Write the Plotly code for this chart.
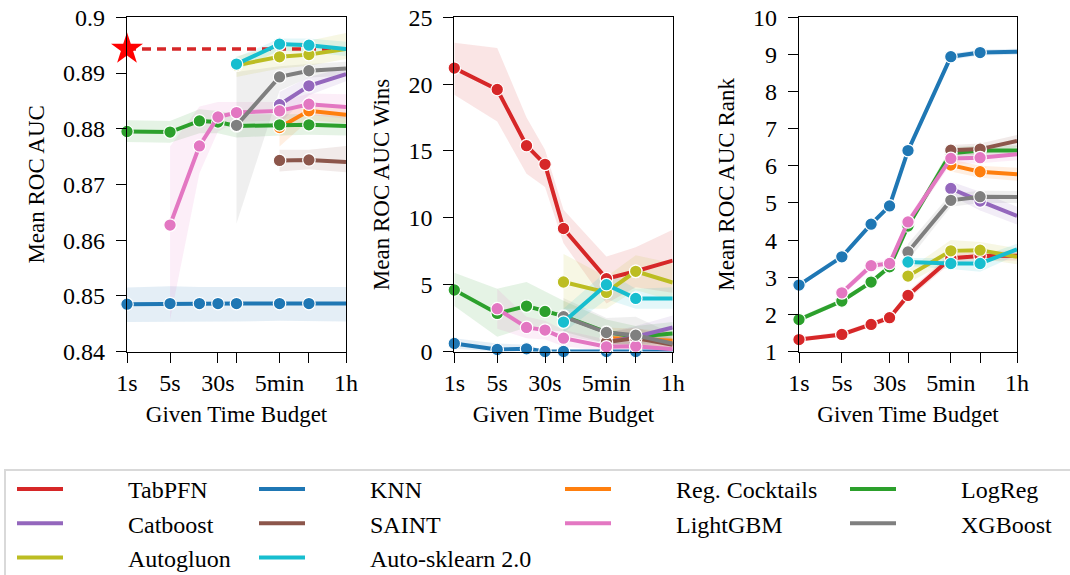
import plotly.graph_objects as go

# ---------------- data ----------------
times = [1, 5, 15, 30, 60, 300, 900, 3600]
tick_vals = [1, 5, 30, 60, 300, 900, 3600]
tick_text = ["1s", "5s", "30s", "", "5min", "", "1h"]

methods = ["TabPFN", "KNN", "Reg. Cocktails", "LogReg", "Catboost",
           "SAINT", "LightGBM", "XGBoost", "Autogluon", "Auto-sklearn 2.0"]

N = None

# Mean ROC AUC
auc_mean = {
    "TabPFN": [0.8943, N, N, N, N, N, N, N],
    "KNN": [0.8485, 0.8486, 0.8486, 0.8486, 0.8486, 0.8486, 0.8486, 0.8486],
    "Reg. Cocktails": [N, N, N, N, N, 0.8802, 0.8832, 0.8825],
    "LogReg": [0.8795, 0.8794, 0.8814, 0.8812, 0.8805, 0.8807, 0.8807, 0.8805],
    "Catboost": [N, N, N, N, N, 0.8843, 0.8877, 0.8898],
    "SAINT": [N, N, N, N, N, 0.8743, 0.8744, 0.8740],
    "LightGBM": [N, 0.8627, 0.8769, 0.8821, 0.8829, 0.8832, 0.8844, 0.8839],
    "XGBoost": [N, N, N, N, 0.8806, 0.8893, 0.8904, 0.8908],
    "Autogluon": [N, N, N, N, 0.8914, 0.8929, 0.8933, 0.8943],
    "Auto-sklearn 2.0": [N, N, N, N, 0.8916, 0.8952, 0.8950, 0.8943],
}
auc_lo = {
    "KNN": [0.8453, 0.8454, 0.8454, 0.8454, 0.8454, 0.8455, 0.8455, 0.8454],
    "Reg. Cocktails": [N, N, N, N, N, 0.8768, 0.8815, 0.8810],
    "LogReg": [0.8776, 0.8775, 0.8792, 0.8792, 0.8784, 0.8788, 0.8789, 0.8788],
    "Catboost": [N, N, N, N, N, 0.8810, 0.8860, 0.8885],
    "SAINT": [N, N, N, N, N, 0.8723, 0.8727, 0.8722],
    "LightGBM": [N, 0.8457, 0.8720, 0.8795, 0.8812, 0.8815, 0.8825, 0.8818],
    "XGBoost": [N, N, N, N, 0.8630, 0.8868, 0.8892, 0.8895],
    "Autogluon": [N, N, N, N, 0.8893, 0.8908, 0.8913, 0.8925],
    "Auto-sklearn 2.0": [N, N, N, N, 0.8905, 0.8940, 0.8938, 0.8930],
}
auc_hi = {
    "KNN": [0.8515, 0.8517, 0.8516, 0.8516, 0.8516, 0.8517, 0.8517, 0.8516],
    "Reg. Cocktails": [N, N, N, N, N, 0.8835, 0.8846, 0.8840],
    "LogReg": [0.8815, 0.8814, 0.8835, 0.8832, 0.8826, 0.8826, 0.8826, 0.8823],
    "Catboost": [N, N, N, N, N, 0.8866, 0.8893, 0.8910],
    "SAINT": [N, N, N, N, N, 0.8762, 0.8762, 0.8769],
    "LightGBM": [N, 0.8768, 0.8840, 0.8848, 0.8848, 0.8848, 0.8863, 0.8862],
    "XGBoost": [N, N, N, N, 0.8902, 0.8912, 0.8916, 0.8920],
    "Autogluon": [N, N, N, N, 0.8930, 0.8950, 0.8958, 0.8972],
    "Auto-sklearn 2.0": [N, N, N, N, 0.8928, 0.8962, 0.8962, 0.8956],
}

# Mean ROC AUC Wins
wins_mean = {
    "TabPFN": [21.2, 19.6, 15.4, 14.0, 9.2, 5.45, 6.0, 6.8],
    "KNN": [0.6, 0.15, 0.2, 0.0, 0.0, 0.0, 0.0, 0.0],
    "Reg. Cocktails": [N, N, N, N, N, 1.0, 0.95, 0.8],
    "LogReg": [4.6, 2.85, 3.4, 3.0, 2.65, 1.45, 1.1, 1.35],
    "Catboost": [N, N, N, N, N, 0.7, 1.1, 1.8],
    "SAINT": [N, N, N, N, N, 0.7, 1.0, 0.5],
    "LightGBM": [N, 3.2, 1.8, 1.6, 1.0, 0.35, 0.4, 0.17],
    "XGBoost": [N, N, N, N, 2.6, 1.42, 1.22, 0.6],
    "Autogluon": [N, N, N, N, 5.2, 4.42, 6.0, 5.16],
    "Auto-sklearn 2.0": [N, N, N, N, 2.2, 5.0, 3.97, 3.97],
}
wins_lo = {
    "TabPFN": [19.2, 17.2, 13.3, 12.3, 8.1, 3.6, 4.8, 4.4],
    "KNN": [0.2, 0.0, 0.0, 0.0, 0.0, 0.0, 0.0, 0.0],
    "Reg. Cocktails": [N, N, N, N, N, 0.3, 0.3, 0.2],
    "LogReg": [3.4, 1.1, 1.8, 1.6, 1.5, 0.6, 0.5, 0.6],
    "Catboost": [N, N, N, N, N, 0.2, 0.5, 1.0],
    "SAINT": [N, N, N, N, N, 0.2, 0.4, 0.1],
    "LightGBM": [N, 1.7, 1.0, 0.9, 0.4, 0.0, 0.0, 0.0],
    "XGBoost": [N, N, N, N, 1.2, 0.6, 0.5, 0.2],
    "Autogluon": [N, N, N, N, 3.2, 3.2, 4.6, 3.8],
    "Auto-sklearn 2.0": [N, N, N, N, 1.4, 3.9, 3.2, 3.2],
}
wins_hi = {
    "TabPFN": [23.1, 22.7, 17.5, 15.1, 10.6, 7.1, 7.8, 9.1],
    "KNN": [1.0, 0.6, 0.5, 0.1, 0.1, 0.1, 0.1, 0.1],
    "Reg. Cocktails": [N, N, N, N, N, 1.8, 1.7, 1.5],
    "LogReg": [5.9, 4.7, 5.2, 4.5, 3.8, 2.4, 1.9, 2.2],
    "Catboost": [N, N, N, N, N, 1.4, 1.9, 2.7],
    "SAINT": [N, N, N, N, N, 1.4, 1.8, 1.0],
    "LightGBM": [N, 4.7, 2.6, 2.3, 1.6, 0.9, 0.8, 0.5],
    "XGBoost": [N, N, N, N, 4.0, 2.5, 2.6, 1.3],
    "Autogluon": [N, N, N, N, 7.3, 5.6, 7.2, 6.6],
    "Auto-sklearn 2.0": [N, N, N, N, 3.2, 6.0, 4.7, 4.8],
}

# Mean ROC AUC Rank
rank_mean = {
    "TabPFN": [1.32, 1.46, 1.73, 1.91, 2.51, 3.51, 3.57, 3.58],
    "KNN": [2.79, 3.55, 4.43, 4.92, 6.41, 8.94, 9.05, 9.07],
    "Reg. Cocktails": [N, N, N, N, N, 6.02, 5.84, 5.77],
    "LogReg": [1.86, 2.36, 2.87, 3.28, 4.38, 6.34, 6.41, 6.41],
    "Catboost": [N, N, N, N, N, 5.39, 5.05, 4.65],
    "SAINT": [N, N, N, N, N, 6.42, 6.45, 6.67],
    "LightGBM": [N, 2.58, 3.31, 3.37, 4.49, 6.20, 6.22, 6.31],
    "XGBoost": [N, N, N, N, 3.68, 5.07, 5.17, 5.16],
    "Autogluon": [N, N, N, N, 3.03, 3.71, 3.73, 3.55],
    "Auto-sklearn 2.0": [N, N, N, N, 3.41, 3.37, 3.37, 3.75],
}
rank_lo = {
    "TabPFN": [1.27, 1.40, 1.66, 1.83, 2.40, 3.38, 3.45, 3.45],
    "KNN": [2.73, 3.49, 4.37, 4.86, 6.34, 8.86, 8.97, 8.99],
    "Reg. Cocktails": [N, N, N, N, N, 5.85, 5.68, 5.60],
    "LogReg": [1.80, 2.29, 2.80, 3.20, 4.28, 6.18, 6.27, 6.27],
    "Catboost": [N, N, N, N, N, 5.20, 4.80, 4.42],
    "SAINT": [N, N, N, N, N, 6.28, 6.30, 6.50],
    "LightGBM": [N, 2.50, 3.20, 3.27, 4.37, 6.05, 6.07, 6.15],
    "XGBoost": [N, N, N, N, 3.45, 4.90, 5.00, 5.00],
    "Autogluon": [N, N, N, N, 2.85, 3.45, 3.50, 3.35],
    "Auto-sklearn 2.0": [N, N, N, N, 3.30, 3.22, 3.15, 3.60],
}
rank_hi = {
    "TabPFN": [1.38, 1.53, 1.80, 1.99, 2.62, 3.64, 3.70, 3.72],
    "KNN": [2.85, 3.61, 4.49, 4.98, 6.48, 9.02, 9.13, 9.15],
    "Reg. Cocktails": [N, N, N, N, N, 6.18, 6.00, 5.95],
    "LogReg": [1.93, 2.43, 2.94, 3.36, 4.48, 6.50, 6.55, 6.55],
    "Catboost": [N, N, N, N, N, 5.58, 5.30, 4.90],
    "SAINT": [N, N, N, N, N, 6.56, 6.60, 6.83],
    "LightGBM": [N, 2.67, 3.42, 3.48, 4.60, 6.35, 6.37, 6.47],
    "XGBoost": [N, N, N, N, 3.90, 5.25, 5.33, 5.32],
    "Autogluon": [N, N, N, N, 3.20, 4.00, 3.95, 3.78],
    "Auto-sklearn 2.0": [N, N, N, N, 3.52, 3.52, 3.55, 3.90],
}

auc_ticks = [0.84, 0.85, 0.86, 0.87, 0.88, 0.89, 0.9]
auc_tick_text = ["0.84", "0.85", "0.86", "0.87", "0.88", "0.89", "0.9"]
wins_ticks = [0, 5, 10, 15, 20, 25]
rank_ticks = [1, 2, 3, 4, 5, 6, 7, 8, 9, 10]

# ---------------- styles ----------------
colors = {
    "TabPFN": "#d62728", "KNN": "#1f77b4", "Reg. Cocktails": "#ff7f0e",
    "LogReg": "#2ca02c", "Catboost": "#9467bd", "SAINT": "#8c564b",
    "LightGBM": "#e377c2", "XGBoost": "#7f7f7f", "Autogluon": "#bcbd22",
    "Auto-sklearn 2.0": "#17becf",
}
legend_of = {
    "TabPFN": "legend", "Catboost": "legend", "Autogluon": "legend",
    "KNN": "legend2", "SAINT": "legend2", "Auto-sklearn 2.0": "legend2",
    "Reg. Cocktails": "legend3", "LightGBM": "legend3",
    "LogReg": "legend4", "XGBoost": "legend4",
}
FONT = "Liberation Serif"
W, H = 1070, 575
LEG_PAD = "\u2003\u2003\u2002"  # visual gap between legend swatch and label


def px_x(p):
    return p / W


def px_y(p):
    return 1 - p / H


def rgba(hexc, a):
    h = hexc.lstrip("#")
    r, g, b = int(h[0:2], 16), int(h[2:4], 16), int(h[4:6], 16)
    return f"rgba({r},{g},{b},{a})"


fig = go.Figure()


def add_panel(col, mean, lo, hi, show_legend):
    xa = "x" if col == 1 else f"x{col}"
    ya = "y" if col == 1 else f"y{col}"
    # confidence bands (below everything)
    for m in methods:
        if m not in lo:
            continue
        idx = [i for i, v in enumerate(mean[m]) if v is not None]
        xs = [times[i] for i in idx]
        yp = [hi[m][i] for i in idx] + [lo[m][i] for i in idx][::-1]
        fig.add_trace(go.Scatter(
            x=xs + xs[::-1], y=yp, fill="toself", mode="lines",
            fillcolor=rgba(colors[m], 0.12), line=dict(width=0),
            hoverinfo="skip", showlegend=False, xaxis=xa, yaxis=ya))
    for m in methods:
        idx = [i for i, v in enumerate(mean[m]) if v is not None]
        xs = [times[i] for i in idx]
        ys = [mean[m][i] for i in idx]
        if len(idx) == 1:
            # single reference value: star + dashed reference line
            fig.add_trace(go.Scatter(
                x=[times[0], times[-1]], y=[ys[0], ys[0]], mode="lines",
                line=dict(color=colors[m], width=3.5, dash="9px,6px"),
                showlegend=False, xaxis=xa, yaxis=ya, cliponaxis=False))
            fig.add_trace(go.Scatter(
                x=xs, y=ys, mode="markers",
                marker=dict(symbol="star", size=24, color="#ff0000",
                            line=dict(width=0)),
                showlegend=False, xaxis=xa, yaxis=ya, cliponaxis=False))
            continue
        fig.add_trace(go.Scatter(
            x=xs, y=ys, mode="lines", name=LEG_PAD + m,
            line=dict(color=colors[m], width=4),
            showlegend=show_legend, legend=legend_of[m],
            xaxis=xa, yaxis=ya, cliponaxis=False))
        fig.add_trace(go.Scatter(
            x=xs, y=ys, mode="markers", name=m,
            marker=dict(size=12.5, color=colors[m],
                        line=dict(color="white", width=1.2)),
            showlegend=False, xaxis=xa, yaxis=ya, cliponaxis=False))


add_panel(1, auc_mean, auc_lo, auc_hi, False)
add_panel(2, wins_mean, wins_lo, wins_hi, True)
add_panel(3, rank_mean, rank_lo, rank_hi, False)

x_domains = [[px_x(127), px_x(346)], [px_x(454.3), px_x(672.7)], [px_x(799), px_x(1017)]]
y_domain = [px_y(351.5), px_y(17.3)]
y_titles = ["Mean ROC AUC", "Mean ROC AUC Wins", "Mean ROC AUC Rank"]
y_ranges = [[0.84, 0.9], [0, 25], [1, 10]]
y_tickvals = [auc_ticks, wins_ticks, rank_ticks]
y_ticktext = [auc_tick_text, [str(v) for v in wins_ticks], [str(v) for v in rank_ticks]]

common_axis = dict(
    showgrid=False, zeroline=False, showline=True, linecolor="black",
    linewidth=1.2, mirror=True, ticks="outside", ticklen=10,
    tickwidth=1.2, tickcolor="black", automargin=False,
    ticklabeloverflow="allow",
    tickfont=dict(family=FONT, size=24, color="black"),
)

layout = {}
for k in range(3):
    sx = "xaxis" if k == 0 else f"xaxis{k + 1}"
    sy = "yaxis" if k == 0 else f"yaxis{k + 1}"
    ax_id = "x" if k == 0 else f"x{k + 1}"
    ay_id = "y" if k == 0 else f"y{k + 1}"
    layout[sx] = dict(
        common_axis, type="log", domain=x_domains[k], anchor=ay_id,
        range=[0, 3.5563], tickvals=tick_vals, ticktext=tick_text,
        ticklabelstandoff=0,
        title=dict(text="Given Time Budget", standoff=10,
                   font=dict(family=FONT, size=23, color="black")))
    layout[sy] = dict(
        common_axis, domain=y_domain, anchor=ax_id, range=y_ranges[k],
        tickvals=y_tickvals[k], ticktext=y_ticktext[k],
        ticklabelstandoff=6,
        title=dict(text=y_titles[k], standoff=12,
                   font=dict(family=FONT, size=23, color="black")))

leg_common = dict(
    orientation="v", xanchor="left", yanchor="top", y=px_y(491 - 24),
    bgcolor="rgba(0,0,0,0)", borderwidth=0, tracegroupgap=0,
    itemwidth=46, font=dict(family=FONT, size=24, color="black"),
    itemclick=False, itemdoubleclick=False,
)
layout["legend"] = dict(leg_common, x=px_x(12))
layout["legend2"] = dict(leg_common, x=px_x(254))
layout["legend3"] = dict(leg_common, x=px_x(560))
layout["legend4"] = dict(leg_common, x=px_x(845))

fig.update_layout(
    width=W, height=H, margin=dict(l=0, r=0, t=0, b=0, autoexpand=False),
    paper_bgcolor="white", plot_bgcolor="white",
    font=dict(family=FONT, color="black"),
    shapes=[dict(type="rect", xref="paper", yref="paper",
                 x0=px_x(5), x1=1.02, y0=-0.05, y1=px_y(470),
                 line=dict(color="#d9d9d9", width=2), fillcolor="rgba(0,0,0,0)",
                 layer="below")],
    **layout,
)

# let the figure fill the browser window exactly (no default page margin)
fig.write_html("out.html", config={"displayModeBar": False},
               post_script="document.body.style.margin='0px';")
